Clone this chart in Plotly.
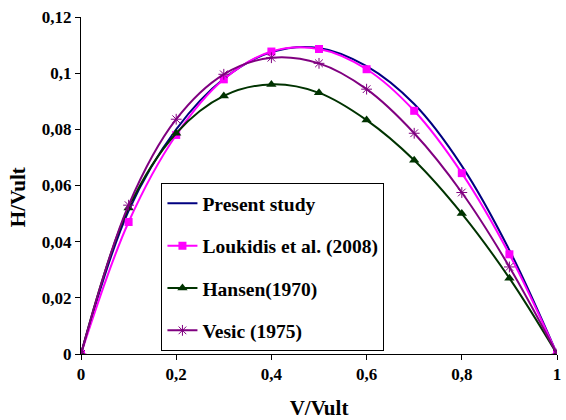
import plotly.graph_objects as go

v_ratio = [0, 0.1, 0.2, 0.3, 0.4, 0.5, 0.6, 0.7, 0.8, 0.9, 1.0]
present_study = [0, 0.051, 0.080, 0.098, 0.1075, 0.109, 0.1025, 0.089, 0.067, 0.037, 0]
loukidis_2008 = [0, 0.047, 0.078, 0.0978, 0.1077, 0.1086, 0.1014, 0.0866, 0.0644, 0.0355, 0]
hansen_1970 = [0, 0.052, 0.0786, 0.0919, 0.096, 0.093, 0.0833, 0.069, 0.050, 0.027, 0]
vesic_1975 = [0, 0.053, 0.0836, 0.0996, 0.1055, 0.1035, 0.0943, 0.0786, 0.0575, 0.031, 0]

FONT = "Liberation Serif"

fig = go.Figure()
fig.add_trace(go.Scatter(x=v_ratio, y=present_study, mode="lines", name="<b>Present study</b>",
                         line=dict(color="#000080", width=2, shape="spline"), legendgroup="a"))
fig.add_trace(go.Scatter(x=v_ratio, y=loukidis_2008, mode="lines+markers", name="<b>Loukidis et al. (2008)</b>",
                         line=dict(color="#FF00FF", width=2, shape="spline"),
                         marker=dict(symbol="square", size=8, color="#FF00FF"), legendgroup="b"))
fig.add_trace(go.Scatter(x=v_ratio, y=hansen_1970, mode="lines+markers", name="<b>Hansen(1970)</b>",
                         line=dict(color="#003300", width=2, shape="spline"),
                         marker=dict(symbol="triangle-up", size=9, color="#003300"), legendgroup="c"))
fig.add_trace(go.Scatter(x=v_ratio, y=vesic_1975, mode="lines+markers", name="<b>Vesic (1975)</b>",
                         line=dict(color="#800080", width=2, shape="spline"),
                         marker=dict(symbol="asterisk-open", size=9, color="#800080",
                                     line=dict(color="#800080", width=1)), legendgroup="d"))

fig.add_annotation(text="<b>H/Vult</b>", xref="paper", yref="paper", x=-0.132, y=0.466,
                   xanchor="center", yanchor="middle", textangle=-90, showarrow=False,
                   font=dict(family=FONT, size=21, color="black"))

fig.update_layout(
    width=566, height=420,
    margin=dict(l=81, r=5, t=17, b=66),
    paper_bgcolor="white", plot_bgcolor="white",
    separators=",.",
    font=dict(family=FONT, size=16, color="black"),
    legend=dict(x=0.169, y=0.507, xanchor="left", yanchor="top",
                bordercolor="black", borderwidth=1, bgcolor="white",
                font=dict(family=FONT, size=19.5, color="black"),
                tracegroupgap=14, itemwidth=30),
    xaxis=dict(range=[0, 1], dtick=0.2, showgrid=False, zeroline=False,
               showline=True, linecolor="black", linewidth=1,
               ticks="outside", ticklen=5, tickcolor="black",
               tickfont=dict(family=FONT, size=17, weight="bold"),
               title=dict(text="<b>V/Vult</b>", font=dict(family=FONT, size=21), standoff=16)),
    yaxis=dict(range=[0, 0.12], dtick=0.02, showgrid=False, zeroline=False,
               showline=True, linecolor="black", linewidth=1,
               ticks="outside", ticklen=5, tickcolor="black",
               tickfont=dict(family=FONT, size=17, weight="bold")),
)

fig.write_html("out.html")
